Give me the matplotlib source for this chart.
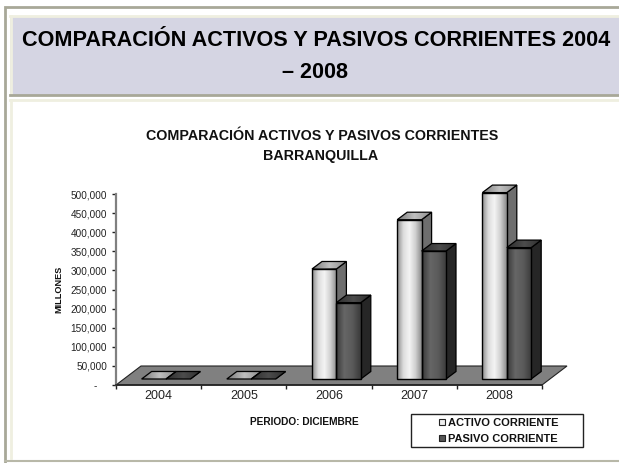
import matplotlib
matplotlib.use("Agg")
import matplotlib.pyplot as plt
import numpy as np
from matplotlib.patches import Polygon, Rectangle
from matplotlib.colors import LinearSegmentedColormap
from matplotlib.transforms import ScaledTranslation

years = ["2004", "2005", "2006", "2007", "2008"]
activo = [0, 0, 288000, 417000, 488000]
pasivo = [0, 0, 200000, 335000, 344000]
yticks = [0, 50000, 100000, 150000, 200000, 250000, 300000, 350000, 400000, 450000, 500000]
ylabels = ["-", "50,000", "100,000", "150,000", "200,000", "250,000", "300,000", "350,000", "400,000", "450,000", "500,000"]

W, H = 619, 463
plt.rcParams['font.family'] = ['Liberation Sans', 'DejaVu Sans']
big, mid = 15.6, 10.3

fig = plt.figure(figsize=(W/100, H/100), dpi=100, facecolor='white')

# slide backdrop in pixels
bg = fig.add_axes([0, 0, 1, 1])
bg.set_xlim(0, W); bg.set_ylim(H, 0); bg.axis('off')
bg.add_patch(Rectangle((5, 7), W, H, fc='white', ec='#a8a898', lw=2))
bg.add_patch(Rectangle((10, 16), W, 79, fc='#d5d5e3', ec='none'))
bg.plot([10, W], [16, 16], color='#efefe0', lw=2)
bg.plot([11, 11], [16, 95], color='#efefe0', lw=2)
bg.plot([10, W], [95, 95], color='#a8a898', lw=2)
bg.plot([10, W], [100, 100], color='#efefe0', lw=2)
bg.plot([11, 11], [100, 458], color='#efefe0', lw=2)
bg.plot([5, W], [461, 461], color='#b8b8a8', lw=1.5)
bg.text(316, 41, "COMPARACIÓN ACTIVOS Y PASIVOS CORRIENTES 2004", ha='center', va='center',
        fontsize=big, fontweight='bold', color='black')
bg.text(315, 72, "– 2008", ha='center', va='center', fontsize=big, fontweight='bold', color='black')
bg.text(322, 136, "COMPARACIÓN ACTIVOS Y PASIVOS CORRIENTES", ha='center', va='center',
        fontsize=mid, fontweight='bold', color='#111111')
bg.text(321, 156, "BARRANQUILLA", ha='center', va='center', fontsize=mid, fontweight='bold', color='#111111')
bg.text(304, 422, "PERIODO: DICIEMBRE", ha='center', va='center', fontsize=7.3, fontweight='bold', color='#111111')

# chart axes
L, R, T, B = 116, 542, 194, 385
ax = fig.add_axes([L/W, 1-B/H, (R-L)/W, (B-T)/H])
ax.set_xlim(0, 5); ax.set_ylim(0, 500000)
ax.patch.set_alpha(0)
for s in ('top', 'right'):
    ax.spines[s].set_visible(False)
ax.spines['left'].set_color('#808080'); ax.spines['left'].set_linewidth(1.6)
ax.spines['bottom'].set_color('#222222'); ax.spines['bottom'].set_linewidth(1.2)
ax.set_yticks(yticks); ax.set_yticklabels(ylabels, fontsize=7.2, color='#222222')
ax.set_xticks(range(6)); ax.set_xticklabels([])
for i, y in enumerate(years):
    ax.text(i+0.5, -13500, y, ha='center', va='top', fontsize=9, color='#222222')
ax.tick_params(axis='both', length=3, width=1, color='#222222')
ax.set_ylabel("MILLONES", fontsize=6.6, fontweight='bold', color='#111111', labelpad=5)
dash = ax.get_yticklabels()[0]
dash.set_transform(dash.get_transform() + ScaledTranslation(-0.1, 0, fig.dpi_scale_trans))

# floor
fx, fy = 25/85.2, 19/191*500000
ax.add_patch(Polygon([(0, 0), (5, 0), (5+fx, fy), (fx, fy)], closed=True, fc='#808080', ec='#222222', lw=0.8, clip_on=False))

# bars
bw = 24.4/85.2; x0 = 25.6/85.2
dx, dy = 10/85.2, 7.5/191*500000
base = 6/191*500000
cm_a = LinearSegmentedColormap.from_list('a', ['#8c8c8c', '#dcdcdc', '#f4f4f4', '#cfcfcf', '#8a8a8a'])
cm_p = LinearSegmentedColormap.from_list('p', ['#3a3a3a', '#666666', '#5a5a5a', '#3a3a3a'])
cm_ta = LinearSegmentedColormap.from_list('ta', ['#777777', '#c0c0c0', '#8a8a8a'])
cm_tp = LinearSegmentedColormap.from_list('tp', ['#2e2e2e', '#4c4c4c', '#2e2e2e'])
grad = np.linspace(0, 1, 64).reshape(1, -1)

def bar(x, v, cmap, tcmap, side):
    z = 3
    y1 = base + v
    ax.add_patch(Polygon([(x+bw, base), (x+bw+dx, base+dy), (x+bw+dx, y1+dy), (x+bw, y1)], closed=True,
                         fc=side, ec='black', lw=0.9, zorder=z, clip_on=False))
    top = Polygon([(x, y1), (x+bw, y1), (x+bw+dx, y1+dy), (x+dx, y1+dy)], closed=True,
                  fc='none', ec='black', lw=0.9, zorder=z+0.1, clip_on=False)
    ax.add_patch(top)
    im = ax.imshow(grad, extent=(x, x+bw+dx, y1, y1+dy), cmap=tcmap, aspect='auto', zorder=z)
    im.set_clip_box(fig.bbox)
    im.set_clip_path(top)
    if v > 0:
        face = ax.imshow(grad, extent=(x, x+bw, base, y1), cmap=cmap, aspect='auto', zorder=z)
        face.set_clip_box(fig.bbox)
        ax.add_patch(Rectangle((x, base), bw, v, fc='none', ec='black', lw=1, zorder=z+0.1, clip_on=False))

for i in range(5):
    for x, v, cm, tc, side in [(i+x0, activo[i], cm_a, cm_ta, '#6e6e6e'), (i+x0+bw, pasivo[i], cm_p, cm_tp, '#262626')]:
        bar(x, v, cm, tc, side)
ax.set_xlim(0, 5); ax.set_ylim(0, 500000)

# legend
bg2 = fig.add_axes([0, 0, 1, 1]); bg2.set_xlim(0, W); bg2.set_ylim(H, 0); bg2.axis('off')
bg2.add_patch(Rectangle((411, 414), 172, 33, fc='white', ec='#222222', lw=1))
bg2.add_patch(Rectangle((439, 419), 6, 6, fc='#eeeeee', ec='#222222', lw=0.8))
bg2.add_patch(Rectangle((439, 435), 6, 6, fc='#555555', ec='#222222', lw=0.8))
bg2.text(448, 423, "ACTIVO CORRIENTE", va='center', fontsize=8, fontweight='bold', color='#111111')
bg2.text(448, 439, "PASIVO CORRIENTE", va='center', fontsize=8, fontweight='bold', color='#111111')

fig.savefig("out.png", dpi=100)
